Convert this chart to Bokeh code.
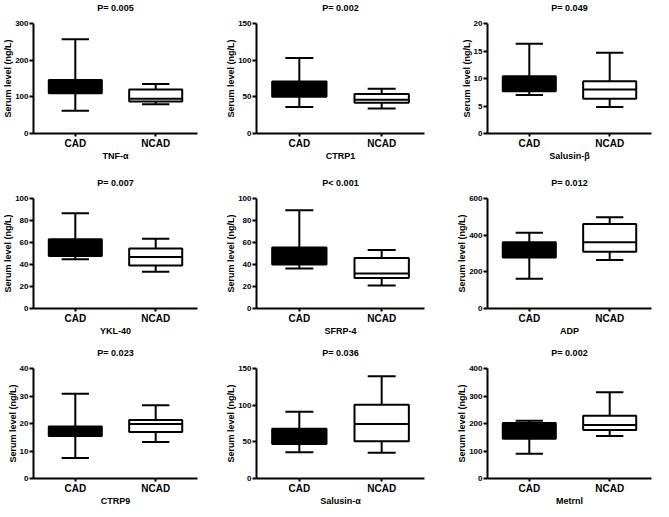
from bokeh.plotting import figure
from bokeh.layouts import gridplot
from bokeh.models import Range1d, FixedTicker, ColumnDataSource, Title
from bokeh.embed import file_html
from bokeh.resources import INLINE

groups = ["CAD", "NCAD"]
markers = ["TNF-α", "CTRP1", "Salusin-β", "YKL-40", "SFRP-4", "ADP", "CTRP9", "Salusin-α", "Metrnl"]
p_values = ["P= 0.005", "P= 0.002", "P= 0.049", "P= 0.007", "P< 0.001", "P= 0.012",
            "P= 0.023", "P= 0.036", "P= 0.002"]
y_max = [300, 150, 20, 100, 100, 600, 40, 150, 400]
y_step = [100, 50, 5, 20, 20, 200, 10, 50, 100]
y_label = "Serum level (ng/L)"

cad_min = [62, 36, 7.0, 44.7, 36.3, 162, 7.5, 35.8, 90]
cad_q1 = [110, 50, 7.7, 47.7, 40.1, 278, 15.5, 46.9, 145]
cad_median = [128, 60, 9.0, 55, 47, 320, 17, 57, 175]
cad_q3 = [146, 71, 10.4, 63, 55.5, 361, 18.9, 67.7, 202]
cad_max = [257, 103, 16.3, 86.5, 89.4, 413, 30.8, 91, 210]

ncad_min = [80, 34, 4.8, 33.5, 21, 265, 13.3, 35, 155]
ncad_q1 = [87, 42, 6.3, 39.2, 27.7, 310, 16.9, 50.9, 176]
ncad_median = [95, 46, 8.0, 46.8, 31.9, 361, 19.8, 74.3, 195]
ncad_q3 = [120, 54, 9.5, 54.5, 46, 461, 21.3, 100.4, 228]
ncad_max = [135, 61, 14.7, 63.3, 53.1, 498, 26.6, 139.4, 314]

FONT = "Liberation Sans"
col_width = [203, 225, 225]
col_left = [27, 53, 59]
col_right = [6, 4, 2]
row_height = [164, 175, 170]
row_top = [23, 34, 29]
row_bottom = [31, 31, 31]

BOX_W = 0.66
CAP_W = 0.34
X_START, X_END = 0.48, 2.52

figs = [[None] * 3 for _ in range(3)]
for i in range(9):
    r, c = divmod(i, 3)
    xs = [k + 1 for k in range(len(groups))]
    src = ColumnDataSource(dict(
        x=xs,
        lo=[cad_min[i], ncad_min[i]],
        q1=[cad_q1[i], ncad_q1[i]],
        med=[cad_median[i], ncad_median[i]],
        q3=[cad_q3[i], ncad_q3[i]],
        hi=[cad_max[i], ncad_max[i]],
        xl=[x - BOX_W / 2 for x in xs],
        xr=[x + BOX_W / 2 for x in xs],
        cl=[x - CAP_W / 2 for x in xs],
        cr=[x + CAP_W / 2 for x in xs],
        fill=["black", "white"],
    ))
    p = figure(width=col_width[c], height=row_height[r],
               min_border_left=col_left[c], min_border_right=col_right[c],
               min_border_top=row_top[r], min_border_bottom=row_bottom[r],
               x_range=Range1d(X_START, X_END), y_range=Range1d(0, y_max[i]),
               output_backend="svg", toolbar_location=None, title=None)

    # spacer between plot area and the P-value title, then the title itself
    p.add_layout(Title(text=" ", text_font=FONT, text_font_size="8px", standoff=0), "above")
    p.add_layout(Title(text=p_values[i], align="center", standoff=0, text_font=FONT,
                       text_font_size="9px", text_font_style="bold", text_color="black"), "above")

    p.segment(x0="x", x1="x", y0="q3", y1="hi", source=src, line_color="black", line_width=2)
    p.segment(x0="x", x1="x", y0="lo", y1="q1", source=src, line_color="black", line_width=2)
    p.segment(x0="cl", x1="cr", y0="hi", y1="hi", source=src, line_color="black", line_width=2)
    p.segment(x0="cl", x1="cr", y0="lo", y1="lo", source=src, line_color="black", line_width=2)
    p.vbar(x="x", width=BOX_W, bottom="q1", top="q3", source=src,
           fill_color="fill", line_color="black", line_width=2)
    p.segment(x0="xl", x1="xr", y0="med", y1="med", source=src, line_color="black", line_width=2)

    p.xgrid.visible = False
    p.ygrid.visible = False
    p.outline_line_color = None

    p.xaxis.ticker = FixedTicker(ticks=xs)
    p.xaxis.major_label_overrides = {x: g for x, g in zip(xs, groups)}
    p.yaxis.ticker = FixedTicker(ticks=list(range(0, y_max[i] + y_step[i], y_step[i])))
    p.xaxis.axis_label = markers[i]
    p.yaxis.axis_label = y_label

    for ax in (p.xaxis[0], p.yaxis[0]):
        ax.axis_line_width = 2
        ax.axis_line_color = "black"
        ax.major_tick_line_width = 2
        ax.major_tick_line_color = "black"
        ax.major_tick_in = 0
        ax.major_tick_out = 4
        ax.minor_tick_line_color = None
        ax.major_label_text_font = FONT
        ax.major_label_text_font_style = "bold"
        ax.major_label_text_color = "black"
        ax.axis_label_text_font = FONT
        ax.axis_label_text_font_style = "bold"
        ax.axis_label_text_font_size = "9px"
        ax.axis_label_text_color = "black"
    p.xaxis.major_tick_out = 3
    p.xaxis.major_label_text_font_size = "10px"
    p.yaxis.major_label_text_font_size = "8px"
    p.xaxis.major_label_standoff = 1
    p.yaxis.major_label_standoff = 1
    p.xaxis.axis_label_standoff = -1
    p.yaxis.axis_label_standoff = -1
    figs[r][c] = p

grid = gridplot(figs, toolbar_location=None)
open("out.html", "w").write(file_html(grid, INLINE))
